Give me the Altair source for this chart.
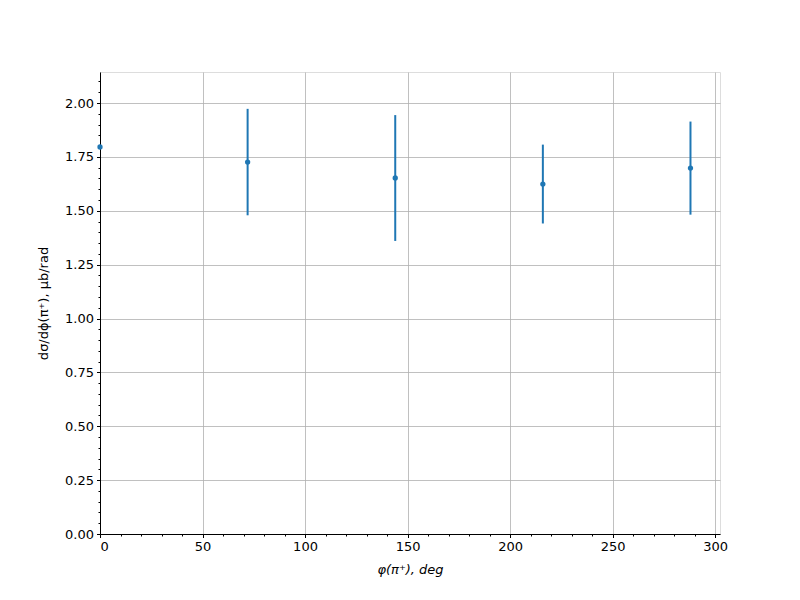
import altair as alt
import pandas as pd

phi = [0, 72, 144, 216, 288]
xsec = [1.796, 1.726, 1.652, 1.624, 1.698]
err = [0.0, 0.247, 0.292, 0.183, 0.216]

x_major = [0, 50, 100, 150, 200, 250, 300]
x_minor = [v for v in range(0, 301, 10) if v % 50 != 0]
y_major = [0.0, 0.25, 0.5, 0.75, 1.0, 1.25, 1.5, 1.75, 2.0]
y_minor = [round(0.05 * i, 2) for i in range(0, 43) if i % 5 != 0]

df = pd.DataFrame({"phi": phi, "y": xsec, "lo": [a - b for a, b in zip(xsec, err)],
                   "hi": [a + b for a, b in zip(xsec, err)]})

FONT = "DejaVu Sans"
C = "#1f77b4"
xs = alt.Scale(domain=[0, 302.4], nice=False, zero=False)
ys = alt.Scale(domain=[0, 2.144], nice=False, zero=False)

xaxis = alt.Axis(values=x_major, title="φ(π⁺), deg", titleFontStyle="italic",
                 grid=True, gridColor="#b0b0b0", gridWidth=0.8,
                 tickSize=3.5, tickColor="black", domainColor="black",
                 labelColor="black", labelFont=FONT, labelFontSize=13, labelPadding=3,
                 titleFont=FONT, titleFontSize=13, titleFontWeight="normal",
                 titleColor="black", titlePadding=10)
yaxis = alt.Axis(values=y_major, format=".2f", title="dσ/dϕ(π⁺), μb/rad",
                 grid=True, gridColor="#b0b0b0", gridWidth=0.8,
                 tickSize=3.5, tickColor="black", domainColor="black",
                 labelColor="black", labelFont=FONT, labelFontSize=13, labelPadding=3,
                 titleFont=FONT, titleFontSize=13, titleFontWeight="normal",
                 titleColor="black", titlePadding=14)

bars = alt.Chart(df).mark_rule(color=C, strokeWidth=2).encode(
    x=alt.X("phi:Q", scale=xs, axis=xaxis),
    y=alt.Y("lo:Q", scale=ys, axis=yaxis),
    y2="hi:Q",
)
pts = alt.Chart(df).mark_circle(color=C, size=28, opacity=1).encode(
    x=alt.X("phi:Q", scale=xs, axis=None), y=alt.Y("y:Q", scale=ys, axis=None)
)

minor_x_axis = alt.Axis(values=x_minor, labels=False, grid=False, domain=False,
                        tickSize=2, tickColor="black", title=None, orient="bottom")
minor_y_axis = alt.Axis(values=y_minor, labels=False, grid=False, domain=False,
                        tickSize=2, tickColor="black", title=None, orient="left")
minor = alt.Chart(df).mark_point(opacity=0).encode(
    x=alt.X("phi:Q", scale=xs, axis=minor_x_axis),
    y=alt.Y("y:Q", scale=ys, axis=minor_y_axis),
)

chart = alt.layer(bars, pts, minor).resolve_axis(x="independent", y="independent").properties(
    width=620, height=462, autosize="none",
    padding={"left": 92, "top": 64, "right": 72, "bottom": 58},
).configure_view(stroke="black", strokeWidth=1).configure(background="white")

chart.save("out.html", embed_options={"renderer": "svg", "actions": False})
